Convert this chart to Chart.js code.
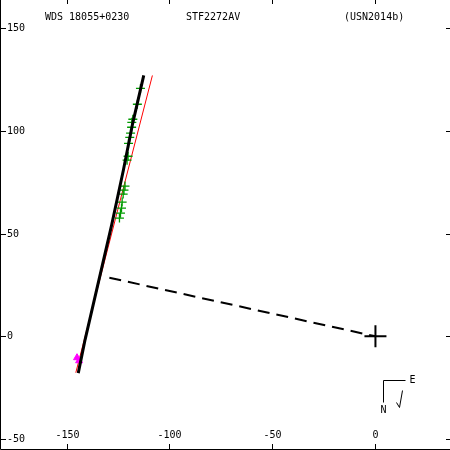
<!DOCTYPE html>
<html>
<head>
<meta charset="utf-8">
<script src="https://cdn.jsdelivr.net/npm/chart.js@4.4.0/dist/chart.umd.min.js"></script>
<style>
  body { margin: 0; background: #fff; }
  #wrap { width: 450px; height: 450px; }
</style>
</head>
<body>
<div id="wrap"><canvas id="chart" width="450" height="450"></canvas></div>
<script>
// Data
const titleLeft = 'WDS 18055+0230';
const titleMid = 'STF2272AV';
const titleRight = '(USN2014b)';

const xTicks = [-150, -100, -50, 0];
const yTicks = [150, 100, 50, 0, -50];

// orbit arc (black)
const orbitX = [-144.3, -141.0, -128.1, -122.4, -117.9, -112.5];
const orbitY = [-17.9, -1.7, 54.1, 80.8, 103.5, 126.9];

// linear fit (red)
const fitX = [-145.5, -108.3];
const fitY = [-17.7, 126.9];

// predicted position line (dashed)
const dashX = [-129.2, 0];
const dashY = [28.5, 0];

// micrometric observations (green)
const obsX = [-114.1, -115.6, -117.8, -118.3, -118.4, -118.9, -119.3, -119.9, -120.1, -120.6,
              -121.6, -122.1, -122.5, -123.0, -123.3, -123.8, -124.3];
const obsY = [120.6, 112.9, 105.6, 104.1, 101.7, 98.8, 96.8, 93.9, 87.6, 85.7,
              73.1, 71.1, 69.2, 65.3, 62.4, 59.9, 57.5];

// early observations (magenta)
const earlyX = [-144.9, -143.9];
const earlyY = [-10.4, -11.9];

// primary
const primX = [0];
const primY = [0];

function pts(xs, ys) {
    return xs.map((x, i) => ({ x: x, y: ys[i] }));
}

// Frame, ticks, labels, titles and compass
const framePlugin = {
    id: 'frame',
    afterDraw(chart) {
        const ctx = chart.ctx;
        const a = chart.chartArea;
        const sx = chart.scales.x, sy = chart.scales.y;
        ctx.save();
        ctx.strokeStyle = '#000';
        ctx.fillStyle = '#000';
        ctx.lineWidth = 1;
        ctx.beginPath();
        ctx.moveTo(a.left + 0.5, a.top);
        ctx.lineTo(a.left + 0.5, a.bottom - 0.5);
        ctx.lineTo(a.right, a.bottom - 0.5);
        ctx.stroke();

        ctx.font = '10px "DejaVu Sans Mono"';
        ctx.textBaseline = 'middle';

        xTicks.forEach(v => {
            const px = Math.round(sx.getPixelForValue(v)) + 0.5;
            ctx.beginPath();
            ctx.moveTo(px, a.bottom);
            ctx.lineTo(px, a.bottom - 6);
            ctx.moveTo(px, a.top);
            ctx.lineTo(px, a.top + 4);
            ctx.stroke();
            ctx.textAlign = 'center';
            ctx.fillText(String(v), px, a.bottom - 15);
        });
        yTicks.forEach(v => {
            const py = Math.round(sy.getPixelForValue(v)) + 0.5;
            ctx.beginPath();
            ctx.moveTo(a.left, py);
            ctx.lineTo(a.left + 6, py);
            ctx.moveTo(a.right, py);
            ctx.lineTo(a.right - 4, py);
            ctx.stroke();
            ctx.textAlign = 'left';
            ctx.fillText(String(v), a.left + 7, py);
        });

        ctx.textAlign = 'left';
        ctx.fillText(titleLeft, a.left + 45, a.top + 17.5);
        ctx.fillText(titleMid, a.left + 186, a.top + 17.5);
        ctx.fillText(titleRight, a.left + 344, a.top + 17.5);

        // compass
        const cx = a.right - 66.5, cy = a.bottom - 69.5;
        ctx.beginPath();
        ctx.moveTo(cx + 22, cy);
        ctx.lineTo(cx, cy);
        ctx.lineTo(cx, cy + 22);
        ctx.stroke();
        ctx.fillText('E', cx + 26, cy);
        ctx.textAlign = 'center';
        ctx.fillText('N', cx, cy + 30);
        ctx.beginPath();
        ctx.moveTo(cx + 19, cy + 10);
        ctx.lineTo(cx + 16, cy + 27);
        ctx.lineTo(cx + 13, cy + 22);
        ctx.stroke();
        ctx.restore();
    }
};

new Chart(document.getElementById('chart'), {
    type: 'scatter',
    data: {
        datasets: [
            { data: pts(orbitX, orbitY), showLine: true, borderColor: '#000', borderWidth: 3, pointRadius: 0 },
            { data: pts(obsX, obsY), pointStyle: 'cross', pointRadius: 4.5, borderColor: '#009a00', borderWidth: 1.3 },
            { data: pts(earlyX, earlyY), pointStyle: 'triangle', pointRadius: 4, borderColor: '#ff00ff', backgroundColor: '#ff00ff', borderWidth: 1 },
            { data: pts(fitX, fitY), showLine: true, borderColor: '#ff0000', borderWidth: 1, pointRadius: 0 },
            { data: pts(dashX, dashY), showLine: true, borderColor: '#000', borderWidth: 2, borderDash: [12, 7], pointRadius: 0 },
            { data: pts(primX, primY), pointStyle: 'cross', pointRadius: 11, borderColor: '#000', borderWidth: 2 }
        ]
    },
    options: {
        responsive: false,
        animation: false,
        layout: { padding: 0, autoPadding: false },
        plugins: { legend: { display: false }, tooltip: { enabled: false } },
        scales: {
            x: { type: 'linear', min: -182.3, max: 36.2, display: false },
            y: { type: 'linear', min: -55.3, max: 163.6, display: false }
        }
    },
    plugins: [framePlugin]
});
</script>
</body>
</html>
